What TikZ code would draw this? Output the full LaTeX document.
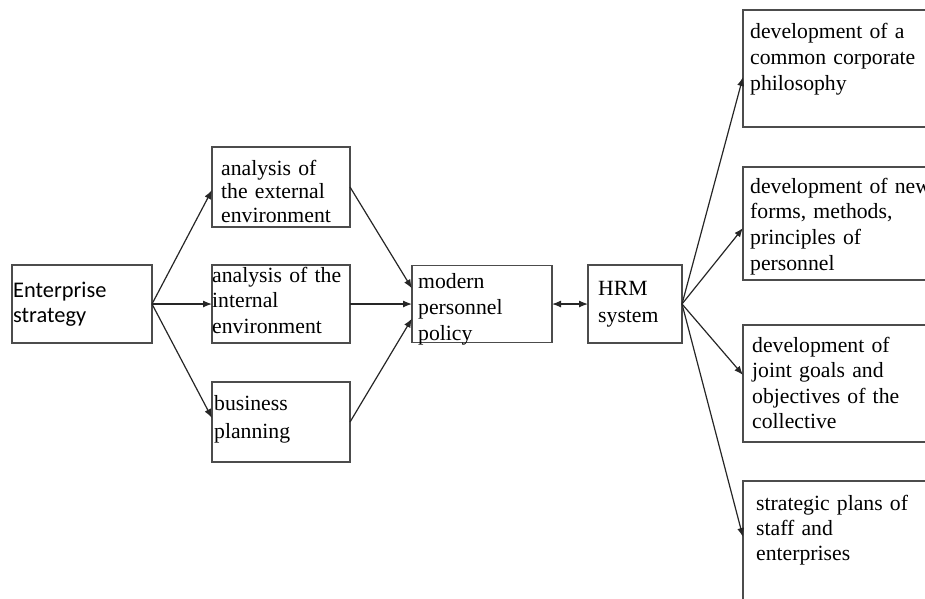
\documentclass[tikz,border=0pt]{standalone}
\usepackage{fontspec}
\setmainfont{Liberation Serif}
\newfontfamily\calfont{Carlito}
\usetikzlibrary{arrows.meta,positioning,calc}
\tikzset{
box/.style = {draw=black!70, line width=1.6pt, fill=white, rectangle, inner sep=0pt, outer sep=0pt},
txt/.style = {anchor=base west, inner sep=0pt, text width=240pt, align=left, font=\fontsize{21.7}{26}\selectfont},
link/.style = {->, line width=1.2pt, black!85}
}

\begin{document}
\begin{tikzpicture}[x=1pt, y=-1pt, >={Latex[length=9pt,width=7pt]}]
	\useasboundingbox (0,0) rectangle (925,598);
	\clip (0,0) rectangle (925,598);
	% left part
	\node[box, anchor=north west, minimum width=140pt, minimum height=78pt] (ent) at (12,265) {};
	\node[box, right=60pt of ent, minimum width=138pt, minimum height=78pt] (intl) {};
	\node[box, above=38pt of intl, minimum width=138pt, minimum height=80pt] (ext) {};
	\node[box, below=39pt of intl, minimum width=138pt, minimum height=80pt] (bus) {};
	\node[box, right=62pt of intl, minimum width=140pt, minimum height=77pt] (mod) {};
	\node[box, right=36pt of mod, minimum width=94pt, minimum height=78pt] (hrm) {};
	% right part
	\node[box, anchor=north west, minimum width=217pt, minimum height=117pt] (dev1) at (743,10) {};
	\node[box, below=40pt of dev1, minimum width=217pt, minimum height=113pt] (dev2) {};
	\node[box, below=45pt of dev2, minimum width=217pt, minimum height=117pt] (dev3) {};
	\node[box, below=39pt of dev3, minimum width=217pt, minimum height=140pt] (plans) {};
	% texts
	\node[txt, font=\calfont\fontsize{22.4}{25}\selectfont] (ent-t) at ($(ent.north west)+(1,32)$) {Enterprise\\strategy};
	\node[txt, font=\fontsize{21.7}{23.5}\selectfont] (ext-t) at ($(ext.north west)+(9,28)$) {analysis of\\the external\\environment};
	\node[txt, font=\fontsize{21.7}{25.5}\selectfont] (intl-t) at ($(intl.north west)+(0,17)$) {analysis of the\\internal\\environment};
	\node[txt, font=\fontsize{21.7}{28}\selectfont] (bus-t) at ($(bus.north west)+(2,28)$) {business\\planning};
	\node[txt] (mod-t) at ($(mod.north west)+(6,23)$) {modern\\personnel\\policy};
	\node[txt, font=\fontsize{21.7}{27}\selectfont] (hrm-t) at ($(hrm.north west)+(10,30)$) {HRM\\system};
	\node[txt] (dev1-t) at ($(dev1.north west)+(7,28)$) {development of a\\common corporate\\philosophy};
	\node[txt, font=\fontsize{21.7}{25.7}\selectfont] (dev2-t) at ($(dev2.north west)+(7,26)$) {development of new\\forms, methods,\\principles of\\personnel};
	\node[txt, font=\fontsize{21.7}{25.5}\selectfont] (dev3-t) at ($(dev3.north west)+(9,27)$) {development of\\joint goals and\\objectives of the\\collective};
	\node[txt, font=\fontsize{21.7}{25}\selectfont] (plans-t) at ($(plans.north west)+(13,29)$) {strategic plans of\\staff and\\enterprises};
	% connectors
	\draw[link] (ent.east) -- ([yshift=-3pt]ext.west);
	\draw[link] (ent.east) -- (intl.west);
	\draw[link] (ent.east) -- ([yshift=4pt]bus.west);
	\draw[link] (ext.east) -- ([yshift=15.5pt]mod.west);
	\draw[link] (intl.east) -- (mod.west);
	\draw[link] (bus.east) -- ([yshift=-14.5pt]mod.west);
	\draw[link, <->] (mod) -- (hrm);
	\draw[link] (hrm.east) -- ([yshift=-8.5pt]dev1.west);
	\draw[link] (hrm.east) -- ([yshift=-4.5pt]dev2.west);
	\draw[link] (hrm.east) -- ([yshift=8.5pt]dev3.west);
	\draw[link] (hrm.east) -- ([yshift=14pt]plans.west);
\end{tikzpicture}
\end{document}
